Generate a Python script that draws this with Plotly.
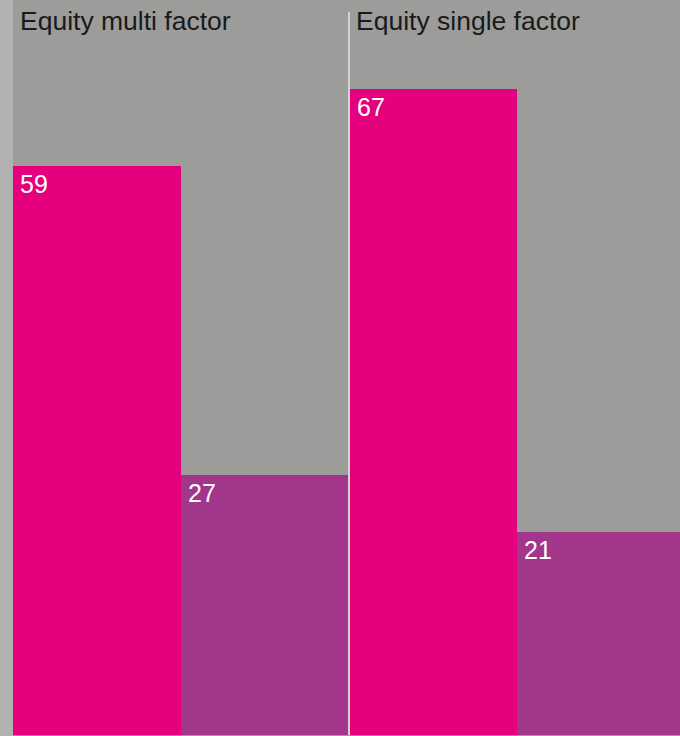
import plotly.graph_objects as go
from plotly.subplots import make_subplots

panels = ["Equity multi factor", "Equity single factor"]
series_names = ["Series A", "Series B"]
series_a = [59, 67]
series_b = [27, 21]
colors = ["#e5007d", "#a1368a"]

BG = "#9c9c9b"
FONT = "Liberation Sans, Arial, sans-serif"

fig = make_subplots(rows=1, cols=2)

for i, panel in enumerate(panels):
    vals = [series_a[i], series_b[i]]
    fig.add_trace(go.Bar(
        x=[0, 1], y=vals, width=1, marker=dict(color=colors, line=dict(width=0)),
        showlegend=False, hoverinfo="skip"), row=1, col=i + 1)
    xa = "x" if i == 0 else "x2"
    ya = "y" if i == 0 else "y2"
    for j, v in enumerate(vals):
        fig.add_annotation(x=j - 0.5, y=v, xref=xa, yref=ya, text=str(v),
                           xanchor="left", yanchor="top", showarrow=False,
                           xshift=5, yshift=-2,
                           font=dict(family=FONT, size=25, color="white"))

left_dom = [0, 335 / 667]
right_dom = [337 / 667, 1]
fig.update_layout(
    width=680, height=736,
    margin=dict(l=13, r=0, t=0, b=1),
    paper_bgcolor=BG, plot_bgcolor=BG,
    bargap=0,
    xaxis=dict(domain=left_dom, range=[-0.5, 1.5], visible=False),
    xaxis2=dict(domain=right_dom, range=[-0.5, 1.476], visible=False),
    yaxis=dict(range=[0, 76.2], visible=False),
    yaxis2=dict(range=[0, 76.2], visible=False),
)

# panel titles
fig.add_annotation(x=left_dom[0], y=1, xref="paper", yref="paper", text=panels[0],
                   xanchor="left", yanchor="top", showarrow=False, xshift=5, yshift=-4,
                   font=dict(family=FONT, size=26.5, color="#1a1a1a"))
fig.add_annotation(x=right_dom[0], y=1, xref="paper", yref="paper", text=panels[1],
                   xanchor="left", yanchor="top", showarrow=False, xshift=4, yshift=-4,
                   font=dict(family=FONT, size=26.5, color="#1a1a1a"))

# left light strip
fig.add_shape(type="rect", xref="paper", yref="paper", x0=-13 / 667, x1=0, y0=-0.01, y1=1.01,
              fillcolor="#b2b2b2", line=dict(width=0), layer="below")
# divider line
fig.add_shape(type="line", xref="paper", yref="paper", x0=336 / 667, x1=336 / 667,
              y0=0, y1=(735 - 12) / 735, line=dict(color="#e6e6e6", width=1.5))

fig.write_html("out.html", config={"displayModeBar": False},
               post_script="document.body.style.margin='0';document.body.style.overflow='hidden';")
